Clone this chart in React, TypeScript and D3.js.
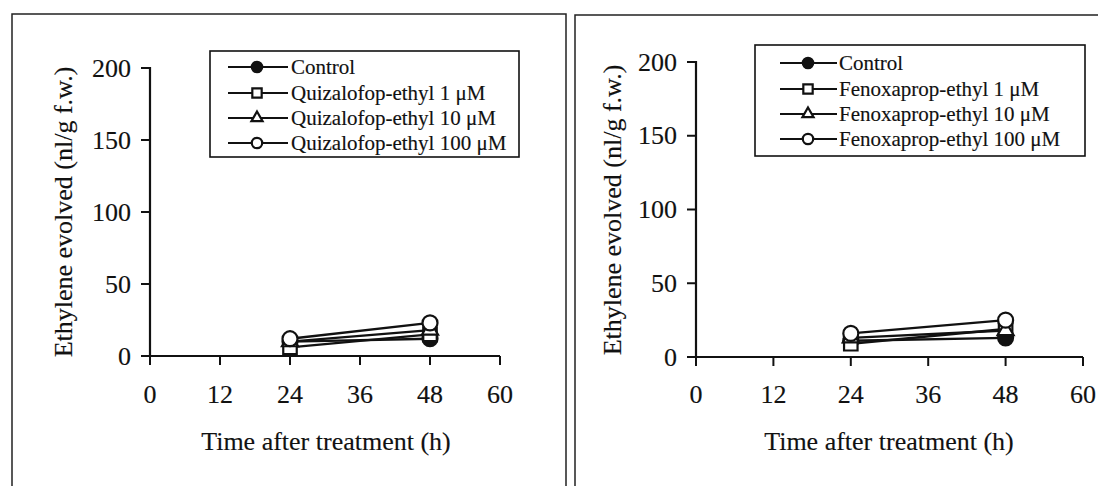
import React from "react";
import * as d3 from "d3";

// Sampling times (h after treatment)
const hours = [24, 48];
const xTickValues = [0, 12, 24, 36, 48, 60];
const yTickValues = [0, 50, 100, 150, 200];

// Ethylene evolved (nl/g f.w.) – quizalofop-ethyl experiment
const quizControl = [10, 12];
const quiz1 = [6, 15];
const quiz10 = [10, 18];
const quiz100 = [12, 23];

// Ethylene evolved (nl/g f.w.) – fenoxaprop-ethyl experiment
const fenoControl = [11, 13];
const feno1 = [9, 19];
const feno10 = [13, 18];
const feno100 = [16, 25];

const quizLabels = ["Control", "Quizalofop-ethyl 1 μM", "Quizalofop-ethyl 10 μM", "Quizalofop-ethyl 100 μM"];
const fenoLabels = ["Control", "Fenoxaprop-ethyl 1 μM", "Fenoxaprop-ethyl 10 μM", "Fenoxaprop-ethyl 100 μM"];

const markerKinds = ["filledCircle", "square", "triangle", "circle"];

const FONT = "'Liberation Serif', 'Times New Roman', serif";
const INK = "#111";

type Layout = {
  axisX: number;
  xEnd: number;
  y0: number;
  yTop: number;
  legend: { x: number; y: number; w: number; h: number; rows: number[]; l1: number; l2: number; mx: number; tx: number };
  tickLabelY: number;
  titleY: number;
  titleX: number;
  yTitleX: number;
  yTitleY: number;
};

function Marker({ kind, x, y, size }: { kind: string; x: number; y: number; size: number }) {
  if (kind === "filledCircle" || kind === "circle") {
    return (
      <circle cx={x} cy={y} r={size} fill={kind === "filledCircle" ? INK : "#fff"} stroke={INK} strokeWidth={2.2} />
    );
  }
  const sym = kind === "square" ? d3.symbolSquare : d3.symbolTriangle;
  const area = kind === "square" ? (size * 1.8) ** 2 : (size * 2.1) ** 2 * 0.45;
  const path = d3.symbol().type(sym).size(area)() as string;
  return <path d={path} transform={`translate(${x},${y})`} fill="#fff" stroke={INK} strokeWidth={2.2} />;
}

function Panel({ series, labels, L }: { series: number[][]; labels: string[]; L: Layout }) {
  const x = d3.scaleLinear().domain([0, 60]).range([L.axisX, L.xEnd]);
  const y = d3.scaleLinear().domain([0, 200]).range([L.y0, L.yTop]);
  const line = d3
    .line<number>()
    .x((_, i) => x(hours[i]))
    .y((v) => y(v));

  return (
    <g fontFamily={FONT} fill={INK}>
      {/* axes */}
      <line x1={L.axisX} x2={L.axisX} y1={y(200) - 1} y2={y(0) + 1} stroke={INK} strokeWidth={2.2} />
      <line x1={L.axisX} x2={L.xEnd} y1={y(0)} y2={y(0)} stroke={INK} strokeWidth={2.2} />
      {yTickValues.map((t) => (
        <line key={"yt" + t} x1={L.axisX - 9} x2={L.axisX} y1={y(t)} y2={y(t)} stroke={INK} strokeWidth={2} />
      ))}
      {xTickValues.map((t) => (
        <line key={"xt" + t} x1={x(t)} x2={x(t)} y1={y(0)} y2={y(0) + 9} stroke={INK} strokeWidth={2} />
      ))}
      <g stroke={INK} strokeWidth={0.15}>
        {yTickValues.map((t) => (
          <text key={"yl" + t} x={L.axisX - 19} y={y(t)} textAnchor="end" dominantBaseline="central" fontSize={26}>
            {t}
          </text>
        ))}
        {xTickValues.map((t) => (
          <text key={"xl" + t} x={x(t)} y={L.tickLabelY} textAnchor="middle" fontSize={26}>
            {t}
          </text>
        ))}
        <text x={L.titleX} y={L.titleY} textAnchor="middle" fontSize={26}>
          Time after treatment (h)
        </text>
        <text
          transform={`translate(${L.yTitleX},${L.yTitleY}) rotate(-90)`}
          textAnchor="middle"
          dominantBaseline="central"
          fontSize={26}
        >
          Ethylene evolved (nl/g f.w.)
        </text>
      </g>

      {/* series lines */}
      {series.map((s, i) => (
        <path key={"l" + i} d={line(s) as string} fill="none" stroke={INK} strokeWidth={2.4} />
      ))}
      {/* series markers */}
      {series.map((s, i) =>
        s.map((v, j) => <Marker key={`m${i}-${j}`} kind={markerKinds[i]} x={x(hours[j])} y={y(v)} size={7.5} />)
      )}

      {/* legend */}
      <rect
        x={L.legend.x}
        y={L.legend.y}
        width={L.legend.w}
        height={L.legend.h}
        fill="#fff"
        stroke={INK}
        strokeWidth={1.6}
      />
      {labels.map((lab, i) => {
        const ry = L.legend.rows[i];
        return (
          <g key={"lg" + i}>
            <line x1={L.legend.l1} x2={L.legend.l2} y1={ry} y2={ry} stroke={INK} strokeWidth={2.2} />
            <Marker kind={markerKinds[i]} x={L.legend.mx} y={ry} size={5.2} />
            <text
              x={L.legend.tx}
              y={ry}
              dominantBaseline="central"
              fontSize={21}
              stroke={INK}
              strokeWidth={0.15}
            >
              {lab}
            </text>
          </g>
        );
      })}
    </g>
  );
}

const leftLayout: Layout = {
  axisX: 150,
  xEnd: 500,
  y0: 356,
  yTop: 68,
  legend: { x: 210, y: 51, w: 309, h: 106, rows: [67, 93, 118, 143], l1: 228, l2: 288, mx: 257, tx: 291 },
  tickLabelY: 403,
  titleY: 450,
  titleX: 326,
  yTitleX: 63,
  yTitleY: 212,
};

const rightLayout: Layout = {
  axisX: 696,
  xEnd: 1083,
  y0: 357,
  yTop: 62,
  legend: { x: 755, y: 45, w: 330, h: 111, rows: [63, 89, 114, 139], l1: 780, l2: 837, mx: 808, tx: 839 },
  tickLabelY: 403,
  titleY: 450,
  titleX: 889,
  yTitleX: 612,
  yTitleY: 210,
};

export default function App() {
  return (
    <svg
      width={1098}
      height={486}
      style={{ position: "absolute", left: 0, top: 0, background: "#fff" }}
    >
      <rect width={1098} height={486} fill="#fff" />
      {/* panel frames */}
      <path d="M12,486 V14 H566 V486" fill="none" stroke="#222" strokeWidth={1.5} />
      <path d="M575,486 V15 H1098" fill="none" stroke="#222" strokeWidth={1.5} />
      <Panel series={[quizControl, quiz1, quiz10, quiz100]} labels={quizLabels} L={leftLayout} />
      <Panel series={[fenoControl, feno1, feno10, feno100]} labels={fenoLabels} L={rightLayout} />
    </svg>
  );
}
